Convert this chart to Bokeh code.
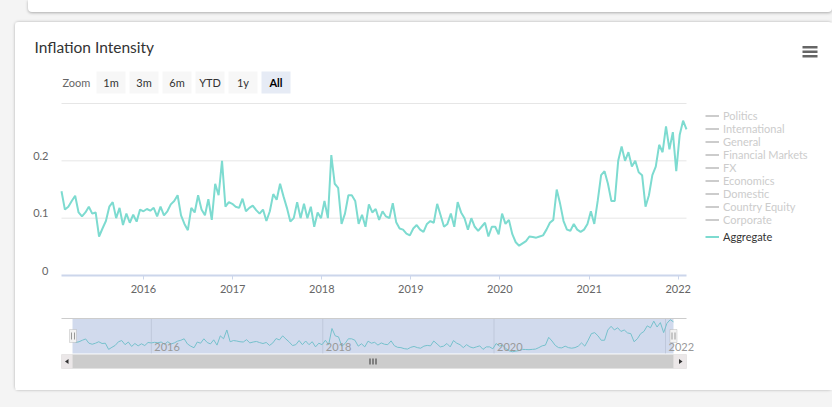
import pandas as pd
from bokeh.plotting import figure
from bokeh.models import (Range1d, FixedTicker, DatetimeTickFormatter, Label, LabelSet,
                          ColumnDataSource, BoxAnnotation, PolyAnnotation, Legend, LegendItem, Spacer)
from bokeh.layouts import column
from bokeh.core.properties import value
from bokeh.embed import file_html
from bokeh.resources import INLINE

# ---------------- data ----------------
title_text = "Inflation Intensity"
start_date = "2015-01-30"          # first (bi-weekly) observation
aggregate = [
    0.147, 0.115, 0.12, 0.13, 0.139, 0.11, 0.103, 0.11, 0.12, 0.108, 0.11, 0.068, 0.082, 0.095,
    0.12, 0.128, 0.10, 0.118, 0.088, 0.108, 0.092, 0.106, 0.094, 0.115, 0.112, 0.116, 0.113,
    0.118, 0.103, 0.12, 0.105, 0.112, 0.124, 0.13, 0.14, 0.105, 0.09, 0.079,
    0.118, 0.11, 0.14, 0.115, 0.105, 0.133, 0.097, 0.16, 0.14, 0.2, 0.12, 0.128, 0.125, 0.12,
    0.118, 0.134, 0.112, 0.118, 0.122, 0.114, 0.108, 0.115, 0.095, 0.112, 0.142, 0.132, 0.16,
    0.138, 0.118, 0.094, 0.1, 0.128, 0.1, 0.125, 0.1, 0.12, 0.085,
    0.11, 0.1, 0.13, 0.1, 0.21, 0.16, 0.153, 0.09, 0.108, 0.14, 0.14, 0.13, 0.09, 0.106, 0.085,
    0.124, 0.11, 0.116, 0.097, 0.112, 0.103, 0.1, 0.126, 0.093, 0.082, 0.08, 0.073, 0.07, 0.082,
    0.088, 0.08, 0.076, 0.09, 0.095, 0.092, 0.125, 0.105,
    0.085, 0.09, 0.108, 0.085, 0.128, 0.11, 0.1, 0.08, 0.1, 0.085, 0.078, 0.085, 0.092, 0.068,
    0.085, 0.085, 0.072, 0.108, 0.09, 0.097, 0.072, 0.058, 0.052, 0.056, 0.06, 0.068, 0.067,
    0.066, 0.068, 0.07, 0.08, 0.092, 0.097, 0.15, 0.125, 0.095, 0.08,
    0.078, 0.09, 0.08, 0.076, 0.08, 0.09, 0.112, 0.09, 0.13, 0.175, 0.182, 0.16, 0.13, 0.13,
    0.2, 0.225, 0.2, 0.215, 0.19, 0.2, 0.18, 0.175, 0.12, 0.14, 0.175, 0.19, 0.228, 0.215, 0.26,
    0.22, 0.25, 0.182, 0.245, 0.27, 0.255,
]
series_names = ["Politics", "International", "General", "Financial Markets", "FX",
                "Economics", "Domestic", "Country Equity", "Corporate", "Aggregate"]
visible_series = ["Aggregate"]
zoom_buttons = ["1m", "3m", "6m", "YTD", "1y", "All"]
selected_button = "All"
y_ticks = [0, 0.1, 0.2]
y_tick_labels = ["0", "0.1", "0.2"]
grid_ticks = [0.1, 0.2, 0.3]
y_min, y_max = 0, 0.3
nav_y_min, nav_y_max = 0.04, 0.278
x_tick_years = [2016, 2017, 2018, 2019, 2020, 2021, 2022]
nav_tick_years = [2016, 2018, 2020, 2022]

# ---------------- style ----------------
FONT = "Lato"
TEAL = "#7ddbd0"
AXIS_LINE = "#ccd6eb"
GRID = "#e6e6e6"
LABEL = "#666666"
HIDDEN = "#cccccc"

dates = pd.date_range(start_date, periods=len(aggregate), freq="14D")
src = ColumnDataSource(dict(date=dates, value=aggregate))
t0 = dates[0].value / 1e6
t1 = dates[-1].value / 1e6


def year_ms(y):
    return pd.Timestamp(f"{y}-01-01").value / 1e6


def ext_range(d0, d1, p0, p1, lo_px, hi_px):
    """Range such that d0 lands at pixel p0 and d1 at p1 of a frame spanning lo_px..hi_px."""
    s = (p1 - p0) / (d1 - d0)
    return Range1d(d0 - (p0 - lo_px) / s, d1 + (hi_px - p1) / s)


def sbox(left, right, top, bottom, fill, line=None, alpha=1.0):
    return BoxAnnotation(left=left, right=right, top=top, bottom=bottom,
                         left_units="screen", right_units="screen",
                         top_units="screen", bottom_units="screen",
                         fill_color=fill, fill_alpha=alpha, line_color=line)


CARD_L = 15
PAGE_W = 832

# ---------------- main chart ----------------
MAIN_TOP, MAIN_BOT = 22, 300          # page rows covered by the main figure
PL, PR, PT, PB = 61, 686, 103, 275    # page box of the plotting area
MH = MAIN_BOT - MAIN_TOP

p = figure(width=PAGE_W - CARD_L, height=MH, x_axis_type="datetime", output_backend="svg",
           toolbar_location=None, y_axis_location=None,
           x_range=ext_range(t0, t1, PL, PR, CARD_L, PAGE_W),
           y_range=ext_range(y_min, y_max, MAIN_BOT - PB, MAIN_BOT - PT, 0, MH),
           min_border=0)
p.title.visible = False
p.outline_line_color = None
p.background_fill_color = "white"
p.border_fill_color = "white"
p.xgrid.visible = False
p.ygrid.visible = False


def mx(X):
    return X - CARD_L


def my(Y):
    return MAIN_BOT - Y


# horizontal grid lines over the data span
p.segment(x0=[dates[0]] * len(grid_ticks), x1=[dates[-1]] * len(grid_ticks),
          y0=grid_ticks, y1=grid_ticks, line_color=GRID, line_width=1)

ax = p.xaxis[0]
ax.fixed_location = 0
ax.bounds = (t0, t1)
ax.ticker = FixedTicker(ticks=[year_ms(y) for y in x_tick_years])
ax.formatter = DatetimeTickFormatter(years="%Y", months="%Y", days="%Y", hours="%Y")
ax.axis_line_color = AXIS_LINE
ax.axis_line_width = 2
ax.major_tick_line_color = AXIS_LINE
ax.major_tick_out = 4
ax.major_tick_in = 0
ax.minor_tick_line_color = None
ax.major_label_text_font = FONT
ax.major_label_text_font_size = "11px"
ax.major_label_text_color = LABEL
ax.major_label_standoff = 5

# y tick labels (sit a little above their grid lines, as in the original)
ysrc = ColumnDataSource(dict(y=y_ticks, text=y_tick_labels))
p.add_layout(LabelSet(x=mx(PL - 13), y="y", x_units="screen", text="text", source=ysrc,
                      text_align="right", text_baseline="middle", y_offset=5,
                      text_font=value(FONT), text_font_size=value("11px"),
                      text_color=LABEL))

renderers = {}
for name in series_names:
    if name in visible_series:
        r = p.line(x="date", y="value", source=src, line_color=TEAL, line_width=2)
    else:
        # hidden series: nothing plotted (no values), only its greyed legend entry
        r = p.line(x=[dates[0]], y=[float("nan")], line_color=HIDDEN, line_width=2)
    renderers[name] = r

hidden_names = [n for n in series_names if n not in visible_series]
LEG_PITCH = 13
leg_kw = dict(orientation="vertical", label_text_font=FONT, label_text_font_size="11px",
              glyph_width=14, glyph_height=LEG_PITCH, label_height=LEG_PITCH,
              label_standoff=4, spacing=0, padding=0, margin=0,
              border_line_color=None, background_fill_alpha=0)
leg_hidden = Legend(items=[LegendItem(label=n, renderers=[renderers[n]]) for n in hidden_names],
                    location=(mx(705), my(115.5 - LEG_PITCH / 2 + LEG_PITCH * len(hidden_names))),
                    label_text_color=HIDDEN, **leg_kw)
leg_shown = Legend(items=[LegendItem(label=n, renderers=[renderers[n]]) for n in visible_series],
                   location=(mx(705), my(236 + LEG_PITCH / 2)),
                   label_text_color="#333333", **leg_kw)
p.add_layout(leg_hidden)
p.add_layout(leg_shown)

# title
p.add_layout(Label(x=mx(34), y=my(46.5), x_units="screen", y_units="screen",
                   text=title_text, text_font=FONT, text_font_size="15.5px",
                   text_color="#333333", text_baseline="middle"))

# hamburger menu
for top_y in (45.5, 50, 54.5):
    p.add_layout(sbox(mx(802), mx(817), my(top_y), my(top_y + 2.5), "#666666"))

# range-selector row
p.add_layout(Label(x=mx(62), y=my(82), x_units="screen", y_units="screen",
                   text="Zoom", text_font=FONT, text_font_size="11px",
                   text_color=LABEL, text_baseline="middle"))
for i, lab in enumerate(zoom_buttons):
    bx = 96 + 33 * i
    sel = lab == selected_button
    p.add_layout(sbox(mx(bx), mx(bx + 29), my(71), my(93),
                      "#e6ebf5" if sel else "#f7f7f7"))
    p.add_layout(Label(x=mx(bx + 14.5), y=my(82), x_units="screen", y_units="screen",
                       text=lab, text_font=FONT, text_font_size="11px",
                       text_font_style="bold" if sel else "normal",
                       text_color="#000000" if sel else "#333333",
                       text_align="center", text_baseline="middle"))

# ---------------- navigator ----------------
NAV_TOP, NAV_BOT = 300, 390
NL, NR, NT, NB = 72, 673, 318, 353
NH = NAV_BOT - NAV_TOP

nav = figure(width=PAGE_W - CARD_L, height=NH, x_axis_type="datetime", output_backend="svg",
             toolbar_location=None, x_axis_location=None, y_axis_location=None,
             x_range=ext_range(t0, t1, NL, NR, CARD_L, PAGE_W),
             y_range=ext_range(nav_y_min, nav_y_max, NAV_BOT - NB, NAV_BOT - NT, 0, NH),
             min_border=0)
nav.title.visible = False
nav.outline_line_color = None
nav.background_fill_color = "white"
nav.border_fill_color = "white"
nav.xgrid.visible = False
nav.ygrid.visible = False


def nx(X):
    return X - CARD_L


def ny(Y):
    return NAV_BOT - Y


nyears = [pd.Timestamp(f"{y}-01-01") for y in nav_tick_years]
nav.segment(x0=nyears, x1=nyears, y0=[nav_y_min] * len(nyears), y1=[nav_y_max] * len(nyears),
            line_color=GRID, line_width=1)
nav.line(x="date", y="value", source=src, line_color=TEAL, line_width=1)

# selected-range mask (everything is selected: "All")
nav.add_layout(BoxAnnotation(left=t0, right=t1, bottom=nav_y_min, top=nav_y_max,
                             fill_color="#6685c2", fill_alpha=0.3, line_color=None))

nsrc = ColumnDataSource(dict(date=nyears, text=[str(y) for y in nav_tick_years]))
nav.add_layout(LabelSet(x="date", y=ny(350), y_units="screen", text="text", source=nsrc,
                        x_offset=3, text_baseline="alphabetic", text_align="left",
                        text_font=value(FONT), text_font_size=value("11px"),
                        text_color="#999999"))

# outline on top of navigator
nav.add_layout(sbox(nx(61), nx(686), ny(317.5), ny(318.5), "#cccccc"))

# scrollbar
nav.add_layout(sbox(nx(61), nx(686), ny(354), ny(368), "#f2f2f2"))
nav.add_layout(sbox(nx(NL), nx(NR), ny(354), ny(368), "#cccccc"))
nav.add_layout(sbox(nx(61), nx(NL), ny(354), ny(368), "#ebe7e8", "#cccccc"))
nav.add_layout(sbox(nx(NR), nx(686), ny(354), ny(368), "#ebe7e8", "#cccccc"))
nav.add_layout(PolyAnnotation(xs=[nx(64.5), nx(68), nx(68)], ys=[ny(361), ny(358.5), ny(363.5)],
                              xs_units="screen", ys_units="screen",
                              fill_color="#333333", fill_alpha=1, line_color=None))
nav.add_layout(PolyAnnotation(xs=[nx(682), nx(678.5), nx(678.5)], ys=[ny(361), ny(358.5), ny(363.5)],
                              xs_units="screen", ys_units="screen",
                              fill_color="#333333", fill_alpha=1, line_color=None))
mid = (NL + NR) / 2
for dx in (-3, 0, 3):
    nav.add_layout(sbox(nx(mid + dx - 0.5), nx(mid + dx + 0.5), ny(358), ny(364), "#333333"))

# handles
for hx in (NL + 0.5, NR):
    nav.add_layout(sbox(nx(hx - 3.5), nx(hx + 3.5), ny(329), ny(342), "#f2f2f2", "#999999"))
    for dx in (-1.5, 1.5):
        nav.add_layout(sbox(nx(hx + dx - 0.5), nx(hx + dx + 0.5), ny(332), ny(339), "#999999"))

# ---------------- page ----------------
strip = Spacer(width=804, height=12, margin=(0, 0, 0, 28),
               styles={"background-color": "white",
                       "box-shadow": "0 1px 3px rgba(0,0,0,0.3)",
                       "border-radius": "0 0 4px 4px"})
card = column(p, nav, margin=(10, 0, 0, CARD_L), spacing=0,
              styles={"background-color": "white",
                      "box-shadow": "0 0 3px rgba(0,0,0,0.3)",
                      "border-radius": "4px"})
page = column(strip, card, width=PAGE_W, height=407, spacing=0,
              styles={"background-color": "#f4f4f4"})

open("out.html", "w").write(file_html(page, INLINE))
